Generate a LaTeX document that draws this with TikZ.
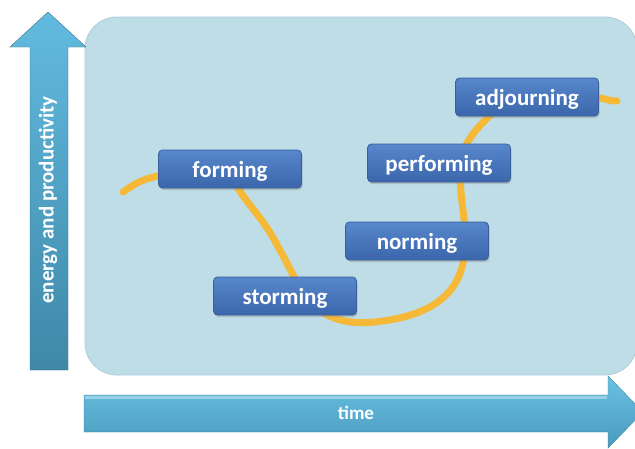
\documentclass[tikz,border=0pt]{standalone}
\usepackage{fontspec}
\setmainfont{Carlito}
\usetikzlibrary{shadows}
\pgfdeclarelayer{back}
\pgfdeclarelayer{mid}
\pgfsetlayers{back,mid,main}
\definecolor{panelfill}{HTML}{BFDDE7}
\definecolor{paneledge}{HTML}{A9CFDC}
\definecolor{boxtop}{HTML}{5887CB}
\definecolor{boxbot}{HTML}{3B66AC}
\definecolor{boxedge}{HTML}{3A5F98}
\definecolor{wavecol}{HTML}{F5B937}
\definecolor{arrtop}{HTML}{62BBDF}
\definecolor{arrbot}{HTML}{3F88A8}
\definecolor{tarrtop}{HTML}{6AC2E4}
\definecolor{tarrbot}{HTML}{4A9ABD}
\tikzset{
  stage/.style={draw=boxedge, line width=0.8pt, rounded corners=4pt,
    top color=boxtop, bottom color=boxbot,
    minimum width=143pt, minimum height=38pt, inner sep=0pt,
    text height=17.5pt, text depth=1.5pt,
    text=white, font=\fontsize{23}{27}\selectfont\bfseries,
    drop shadow={opacity=0.35, shadow xshift=1pt, shadow yshift=-2pt}},
  wave/.style={draw=wavecol, line width=7pt, line cap=round, line join=round},
  axislabel/.style={text=white, font=\bfseries, inner sep=0pt}
}
\begin{document}
\begin{tikzpicture}[x=1pt, y=-1pt]
\useasboundingbox (0,0) rectangle (635,448);
\clip (0,0) rectangle (635,448);

% vertical axis arrow
\shade[top color=arrtop, bottom color=arrbot, draw=arrbot!85!black, line width=0.4pt]
  (30,370) -- (30,47) -- (10,47) -- (48,12) -- (86,47) -- (68,47) -- (68,370) -- cycle;
\node[axislabel, rotate=90, font=\fontsize{21}{25}\selectfont\bfseries] (ylabel) at (48,200) {energy and productivity};

% time arrow
\shade[top color=tarrtop, bottom color=tarrbot, draw=tarrbot!85!black, line width=0.4pt]
  (84,395) -- (608,395) -- (608,376) -- (643,412) -- (608,448) -- (608,432) -- (84,432) -- cycle;
\fill[white, opacity=0.35] (85,396) rectangle (607,399);
\node[axislabel, font=\fontsize{19}{23}\selectfont\bfseries] (xlabel) at (356,413) {time};

% stages
\node[stage] (forming) at (230,169) {forming};
\node[stage] (storming) at (285,296) {storming};
\node[stage] (norming) at (417,241) {norming};
\node[stage] (performing) at (439,163) {performing};
\node[stage] (adjourning) at (527,97) {adjourning};

\coordinate (w0) at (123,192);
\coordinate (w1) at (617,101);

\begin{pgfonlayer}{back}
\fill[white] (0,0) rectangle (635,448);
\draw[fill=panelfill, draw=paneledge, line width=0.8pt, rounded corners=32pt]
  (85,17) rectangle (637,375);
\end{pgfonlayer}

\begin{pgfonlayer}{mid}
\draw[wave] (w0) .. controls (140,180) and (150,172) .. (forming.center)
  .. controls (236,195) and (260,212) .. (276,243)
  .. controls (288,264) and (296,282) .. ([xshift=20pt]storming.center)
  .. controls (322,318) and (345,325) .. (375,322)
  .. controls (430,316) and (466,295) .. ([xshift=48pt]norming.center)
  .. controls (466,215) and (458,195) .. ([xshift=22pt]performing.center)
  .. controls (462,140) and (485,118) .. ([xshift=-15pt]adjourning.center)
  -- ([xshift=60pt]adjourning.center)
  .. controls (605,97) and (610,102) .. (w1);
\end{pgfonlayer}
\end{tikzpicture}
\end{document}
